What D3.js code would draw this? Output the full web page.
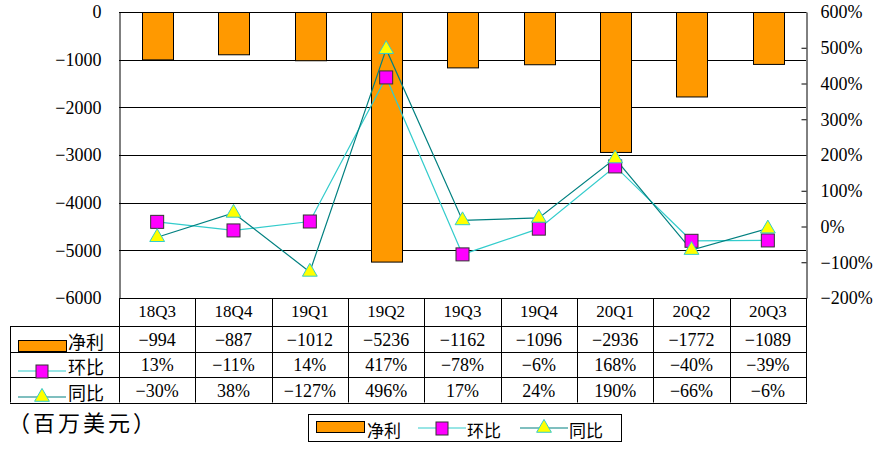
<!DOCTYPE html>
<html><head><meta charset="utf-8">
<script src="https://cdn.jsdelivr.net/npm/d3@7/dist/d3.min.js"></script>
<style>
body{margin:0;background:#fff;}
svg{display:block;}
text{font-family:"Liberation Serif","Noto Sans CJK SC",serif;fill:#000;}
.cjk{font-family:"Noto Sans CJK SC","Liberation Serif",sans-serif;}
</style></head>
<body>
<svg id="c" width="875" height="457"></svg>
<script>
const categories = ["18Q3","18Q4","19Q1","19Q2","19Q3","19Q4","20Q1","20Q2","20Q3"];
const netProfit = [-994,-887,-1012,-5236,-1162,-1096,-2936,-1772,-1089];
const qoq = [13,-11,14,417,-78,-6,168,-40,-39];
const yoy = [-30,38,-127,496,17,24,190,-66,-6];
const leftTicks = [0,-1000,-2000,-3000,-4000,-5000,-6000];
const rightTicks = [600,500,400,300,200,100,0,-100,-200];
const seriesNames = ["净利","环比","同比"];
const unitLabel = "（百万美元）";

const svg = d3.select("#c");
const L = 119, R = 806, T = 12, B = 298;
const x = d3.scaleBand().domain(categories).range([L, R]);
const yL = d3.scaleLinear().domain([-6000, 0]).range([B, T]);
const yR = d3.scaleLinear().domain([-200, 600]).range([B, T]);
const fmtNum = v => String(v).replace("-", "\u2212");
const fmtPct = v => fmtNum(v) + "%";
const cx = c => x(c) + x.bandwidth() / 2;

const ORANGE = "#FF9900", QOQ_LINE = "#33CCCC", YOY_LINE = "#008080";
const NUM_FS = 18;

// gridlines
svg.append("g").selectAll("line").data(leftTicks).join("line")
  .attr("x1", L).attr("x2", R)
  .attr("y1", d => Math.round(yL(d)) + 0.5).attr("y2", d => Math.round(yL(d)) + 0.5)
  .attr("stroke", "#000").attr("stroke-width", 1);

// bars
const bw = x.bandwidth() * 0.4;
svg.append("g").selectAll("rect").data(netProfit).join("rect")
  .attr("x", (d, i) => Math.round(cx(categories[i]) - bw / 2) + 0.5)
  .attr("y", yL(0) + 0.5)
  .attr("width", Math.round(bw))
  .attr("height", d => yL(d) - yL(0))
  .attr("fill", ORANGE).attr("stroke", "#000").attr("stroke-width", 1);

// left axis
const ga = svg.append("g").attr("transform", `translate(${L + 0.5},0)`)
  .call(d3.axisLeft(yL).tickValues(leftTicks).tickSize(0).tickPadding(18).tickFormat(fmtNum));
ga.select(".domain").attr("stroke", "#000");
ga.selectAll("text").attr("font-size", NUM_FS).attr("font-family", "Liberation Serif");

// right axis
const gr = svg.append("g").attr("transform", `translate(${R + 0.5},0)`)
  .call(d3.axisRight(yR).tickValues(rightTicks).tickSizeInner(-5).tickSizeOuter(0).tickPadding(14).tickFormat(fmtPct));
gr.select(".domain").attr("stroke", "#000");
gr.selectAll(".tick line").attr("stroke", "#000");
gr.selectAll("text").attr("font-size", NUM_FS).attr("font-family", "Liberation Serif");

// lines
const lineQ = d3.line().x((d, i) => cx(categories[i])).y(d => yR(d));
svg.append("path").datum(qoq).attr("d", lineQ).attr("fill", "none").attr("stroke", QOQ_LINE).attr("stroke-width", 1.2);
svg.append("path").datum(yoy).attr("d", lineQ).attr("fill", "none").attr("stroke", YOY_LINE).attr("stroke-width", 1.2);

// markers
const sq = 13;
svg.append("g").selectAll("rect").data(qoq).join("rect")
  .attr("x", (d, i) => cx(categories[i]) - sq / 2).attr("y", d => yR(d) - sq / 2)
  .attr("width", sq).attr("height", sq)
  .attr("fill", "#FF00FF").attr("stroke", "#333").attr("stroke-width", 1);
const tri = d3.symbol(d3.symbolTriangle, 95);
svg.append("g").selectAll("path").data(yoy).join("path")
  .attr("transform", (d, i) => `translate(${cx(categories[i])},${yR(d)})`)
  .attr("d", tri).attr("fill", "#FFFF00").attr("stroke", QOQ_LINE).attr("stroke-width", 1);

// data table
const tL = 10, hB = 326, rows = [351.5, 377, 402.5];
const tbl = svg.append("g").attr("stroke", "#000").attr("stroke-width", 1);
const vx = categories.map(c => x(c)).concat([R]);
tbl.selectAll("line.v").data(vx).join("line").attr("class", "v")
  .attr("x1", d => Math.round(d) + 0.5).attr("x2", d => Math.round(d) + 0.5)
  .attr("y1", B).attr("y2", rows[2]);
tbl.append("line").attr("x1", tL + 0.5).attr("x2", tL + 0.5).attr("y1", hB).attr("y2", rows[2]);
[hB].concat(rows).forEach(yy => {
  tbl.append("line").attr("x1", tL).attr("x2", R + 1).attr("y1", Math.round(yy) + 0.5).attr("y2", Math.round(yy) + 0.5);
});
// header labels
svg.append("g").selectAll("text").data(categories).join("text")
  .attr("x", d => cx(d)).attr("y", (B + hB) / 2 - 1)
  .attr("text-anchor", "middle").attr("dominant-baseline", "central")
  .attr("font-size", 17).text(d => d);
// rows
const rowTops = [hB, rows[0], rows[1]];
const rowData = [netProfit.map(fmtNum), qoq.map(fmtPct), yoy.map(fmtPct)];
rowData.forEach((arr, r) => {
  const yc = (rowTops[r] + rows[r]) / 2 + 1;
  svg.append("g").selectAll("text").data(arr).join("text")
    .attr("x", (d, i) => cx(categories[i])).attr("y", yc)
    .attr("text-anchor", "middle").attr("dominant-baseline", "central")
    .attr("font-size", NUM_FS).text(d => d);
  svg.append("text").attr("class", "cjk").attr("x", 68).attr("y", yc + 1)
    .attr("dominant-baseline", "central").attr("font-size", 18).text(seriesNames[r]);
});
// legend keys
function keyBar(g, x0, y0) {
  g.append("rect").attr("x", x0 + 0.5).attr("y", y0 + 0.5).attr("width", 48).attr("height", 11)
    .attr("fill", ORANGE).attr("stroke", "#000");
}
function keyQ(g, x0, yy) {
  g.append("line").attr("x1", x0).attr("x2", x0 + 48).attr("y1", yy).attr("y2", yy).attr("stroke", QOQ_LINE).attr("stroke-width", 1.2);
  g.append("rect").attr("x", x0 + 18).attr("y", yy - 6).attr("width", 12).attr("height", 13)
    .attr("fill", "#FF00FF").attr("stroke", "#333");
}
function keyY(g, x0, yy) {
  g.append("line").attr("x1", x0).attr("x2", x0 + 48).attr("y1", yy).attr("y2", yy).attr("stroke", YOY_LINE).attr("stroke-width", 1.2);
  g.append("path").attr("transform", `translate(${x0 + 24},${yy})`).attr("d", tri)
    .attr("fill", "#FFFF00").attr("stroke", QOQ_LINE);
}
const kg = svg.append("g");
keyBar(kg, 18, 340);
keyQ(kg, 18, 371);
keyY(kg, 18, 397);

// unit label
svg.append("text").attr("class", "cjk").attr("x", 8).attr("y", 421)
  .attr("dominant-baseline", "central").attr("font-size", 22).attr("letter-spacing", 3).text(unitLabel);

// bottom legend
const lg = svg.append("g");
lg.append("rect").attr("x", 308.5).attr("y", 414.5).attr("width", 313).attr("height", 27)
  .attr("fill", "#fff").attr("stroke", "#000");
keyBar(lg, 316, 421);
lg.append("text").attr("class", "cjk").attr("x", 367).attr("y", 429).attr("dominant-baseline", "central").attr("font-size", 17).text(seriesNames[0]);
keyQ(lg, 418, 428);
lg.append("text").attr("class", "cjk").attr("x", 467).attr("y", 429).attr("dominant-baseline", "central").attr("font-size", 17).text(seriesNames[1]);
keyY(lg, 520, 428);
lg.append("text").attr("class", "cjk").attr("x", 569).attr("y", 429).attr("dominant-baseline", "central").attr("font-size", 17).text(seriesNames[2]);
</script>
</body></html>
